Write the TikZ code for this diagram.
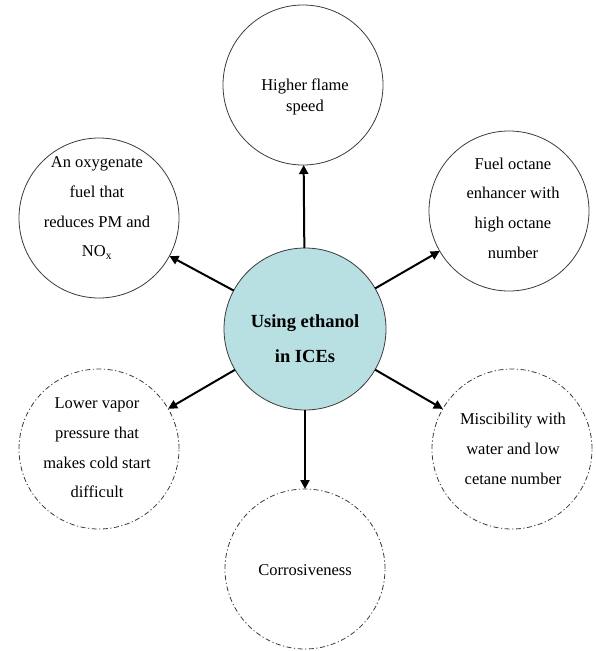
\documentclass[tikz,border=0pt]{standalone}
\usepackage{fontspec}
\setmainfont{Liberation Serif}
\usetikzlibrary{arrows.meta}
\definecolor{hubfill}{RGB}{184,223,226}
\definecolor{rimcol}{RGB}{60,60,60}
\tikzset{
  bubble/.style={circle,draw=rimcol,line width=0.8pt,minimum size=160pt,inner sep=0pt,outer sep=0pt,fill=white},
  dbubble/.style={bubble,dash pattern=on 5pt off 2.5pt on 1.2pt off 2.5pt},
  hub/.style={bubble,fill=hubfill,minimum size=162pt},
  txt/.style={align=center,font=\fontsize{16.5}{29.7}\selectfont,inner sep=0pt},
  hubtxt/.style={align=center,font=\fontsize{18.5}{35}\selectfont\bfseries,inner sep=0pt},
  arr/.style={line width=2pt,-{Triangle[length=9pt,width=9pt]}}
}
\begin{document}
\begin{tikzpicture}[x=1pt,y=-1pt]
\useasboundingbox (0,0) rectangle (595,651);
\node[hub] (c) at (305,329) {};
\node[bubble] (t) at (303,85) {};
\node[bubble] (tl) at (99,218) {};
\node[bubble] (tr) at (509,211) {};
\node[dbubble] (bl) at (99,449) {};
\node[dbubble] (br) at (512,449) {};
\node[dbubble] (b) at (305,569) {};

\node[hubtxt] (ct) at (305,339) {Using ethanol\\in ICEs};
\node[txt,font=\fontsize{16.5}{20.7}\selectfont] (tt) at (305,97) {Higher flame\\speed};
\node[txt] (tlt) at (97,208) {An oxygenate\\fuel that\\reduces PM and\\NO\textsubscript{x}};
\node[txt] (trt) at (513,208) {Fuel octane\\enhancer with\\high octane\\number};
\node[txt] (blt) at (97,448) {Lower vapor\\pressure that\\makes cold start\\difficult};
\node[txt] (brt) at (513,449) {Miscibility with\\water and low\\cetane number};
\node[txt] (bt) at (305,570) {Corrosiveness};

\draw[arr] (c) -- (t);
\draw[arr] (c) -- (tl);
\draw[arr] (c) -- (tr);
\draw[arr] (c) -- (bl);
\draw[arr] (c) -- (br);
\draw[arr] (c) -- (b);
\end{tikzpicture}
\end{document}
